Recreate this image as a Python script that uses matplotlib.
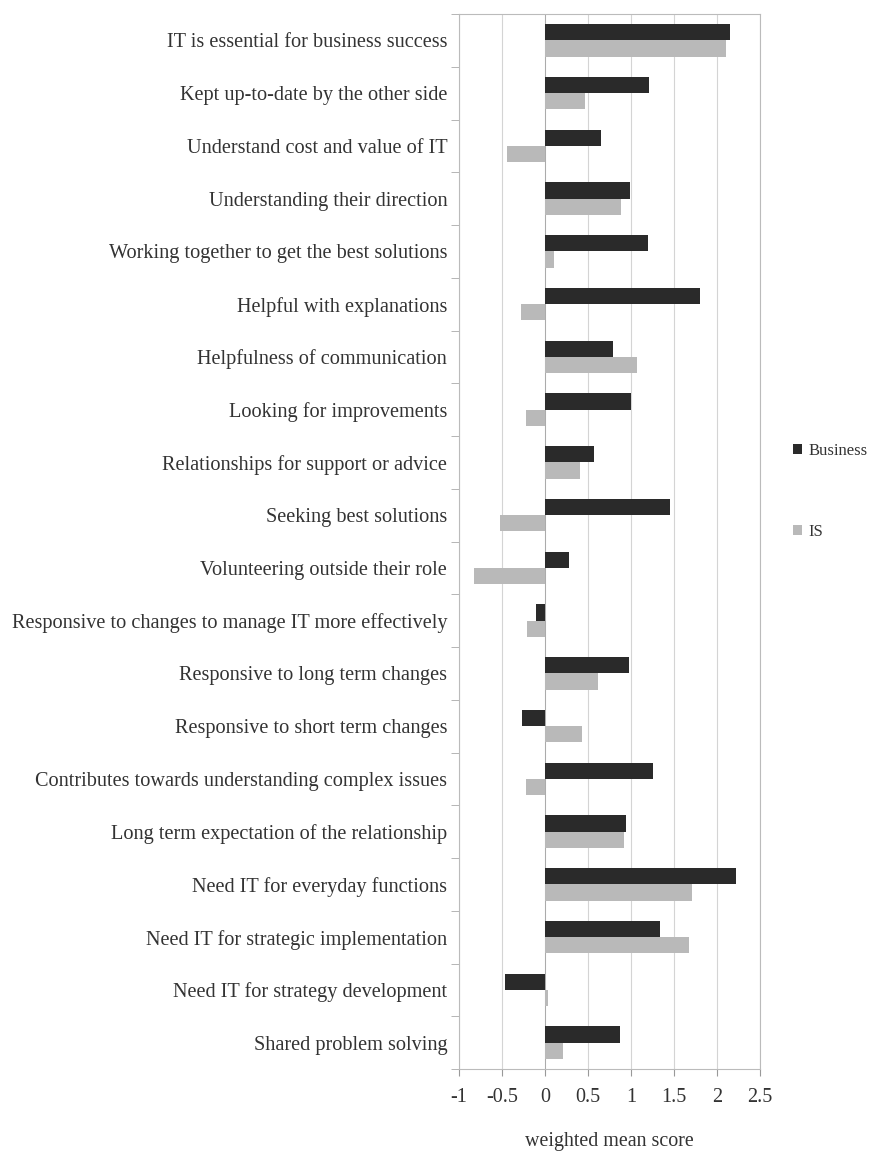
import matplotlib
matplotlib.use("Agg")
from matplotlib import pyplot as plt
import numpy as np

plt.rcParams['font.family'] = ['Liberation Serif', 'DejaVu Serif']
plt.rcParams['axes.unicode_minus'] = False

categories = [
    "IT is essential for business success",
    "Kept up-to-date by the other side",
    "Understand cost and value of IT",
    "Understanding their direction",
    "Working together to get the best solutions",
    "Helpful with explanations",
    "Helpfulness of communication",
    "Looking for improvements",
    "Relationships for support or advice",
    "Seeking best solutions",
    "Volunteering outside their role",
    "Responsive to changes to manage IT more effectively",
    "Responsive to long term changes",
    "Responsive to short term changes",
    "Contributes towards understanding complex issues",
    "Long term expectation of the relationship",
    "Need IT for everyday functions",
    "Need IT for strategic implementation",
    "Need IT for strategy development",
    "Shared problem solving",
]
business = [2.15, 1.21, 0.655, 0.99, 1.20, 1.80, 0.79, 1.00, 0.57, 1.45,
            0.28, -0.11, 0.98, -0.27, 1.26, 0.94, 2.22, 1.34, -0.47, 0.87]
is_vals = [2.10, 0.46, -0.44, 0.88, 0.11, -0.28, 1.07, -0.22, 0.41, -0.52,
           -0.83, -0.21, 0.62, 0.43, -0.22, 0.92, 1.71, 1.67, 0.035, 0.21]
xticks = [-1, -0.5, 0, 0.5, 1, 1.5, 2, 2.5]
xtick_labels = ["-1", "-0.5", "0", "0.5", "1", "1.5", "2", "2.5"]

fig = plt.figure(figsize=(8.71, 11.56), dpi=100)
ax = fig.add_axes([459 / 871, 1 - 1069 / 1156, (760 - 459) / 871, (1069 - 14) / 1156])

y = np.arange(len(categories))
h = 0.31
ax.barh(y - h / 2, business, height=h, color='#2a2a2a', label='Business', zorder=3)
ax.barh(y + h / 2, is_vals, height=h, color='#b9b9b9', label='IS', zorder=3)

ax.set_xlim(-1, 2.5)
ax.set_ylim(len(categories) - 0.5, -0.5)
ax.set_xticks(xticks)
ax.set_xticklabels(xtick_labels, fontsize=14.5, color='#333333')
ax.set_yticks(y)
ax.set_yticklabels(categories, fontsize=14.6, color='#333333')
ax.tick_params(axis='y', length=0, pad=8.5)
ax.set_yticks(np.arange(len(categories) + 1) - 0.5, minor=True)
ax.tick_params(axis='y', which='minor', length=6, color='#aaaaaa')
ax.tick_params(axis='x', length=5, color='#999999', pad=9)

ax.grid(axis='x', color='#d4d4d4', lw=0.8, zorder=0)
ax.axvline(0, color='#aaaaaa', lw=0.7, zorder=2)
for s in ['top', 'right', 'left', 'bottom']:
    ax.spines[s].set_color('#bbbbbb')
    ax.spines[s].set_linewidth(0.8)

ax.set_xlabel("weighted mean score", fontsize=14.4, color='#333333', labelpad=18)

fig.legend(loc='center left', bbox_to_anchor=(0.910, 0.575), frameon=False,
           fontsize=12, handlelength=0.55, handleheight=0.55, handletextpad=0.4,
           labelspacing=3.9, borderpad=0, borderaxespad=0, labelcolor='#333333')

fig.savefig("out.png", dpi=100)
